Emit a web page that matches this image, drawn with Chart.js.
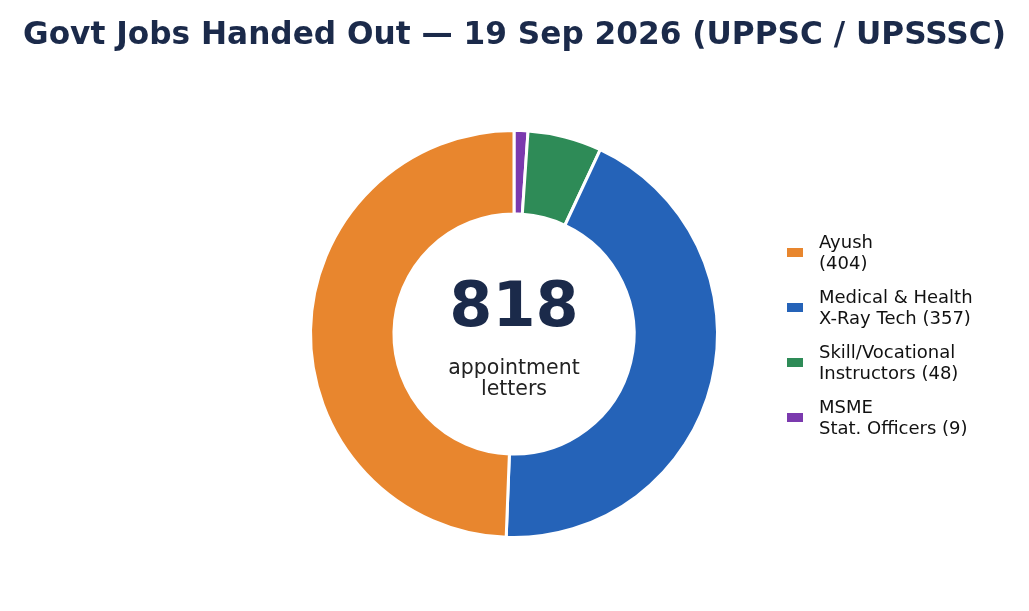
<!DOCTYPE html>
<html>
<head>
<meta charset="utf-8">
<script src="https://cdn.jsdelivr.net/npm/chart.js@4.4.1/dist/chart.umd.min.js"></script>
<style>
  html, body { margin: 0; padding: 0; background: #fff; }
  #wrap { position: relative; width: 1029px; height: 611px; font-family: "DejaVu Sans", sans-serif; }
  #wrap canvas { position: absolute; left: 0; top: 0; }
  #title {
    position: absolute; left: 0; top: 15px; width: 1029px;
    text-align: center; white-space: nowrap;
    font-weight: bold; font-size: 31.2px; color: #1B2A4A;
  }
  #legend { position: absolute; left: 787px; top: 231px; }
  .item { position: relative; height: 55px; }
  .box { position: absolute; left: 0; top: 17px; width: 16px; height: 9px; }
  .lbl { position: absolute; left: 32px; top: 0; font-size: 18px; line-height: 21px; color: #111; white-space: nowrap; }
</style>
</head>
<body>
<div id="wrap">
  <canvas id="donut"></canvas>
  <div id="title">Govt Jobs Handed Out — 19 Sep 2026 (UPPSC / UPSSSC)</div>
  <div id="legend"></div>
</div>
<script>
// categories and counts (legend order)
const categories = [
    ['Ayush', '(404)'],
    ['Medical & Health', 'X-Ray Tech (357)'],
    ['Skill/Vocational', 'Instructors (48)'],
    ['MSME', 'Stat. Officers (9)']
];
const letters = [404, 357, 48, 9];
const colors = ['#E8862E', '#2563B8', '#2E8B57', '#7B3AAE'];
const totalLabel = '818';
const subLabel = ['appointment', 'letters'];

// chart.js goes clockwise, the original goes counter-clockwise, so flip the order
const rev = arr => arr.slice().reverse();

// legend
const legend = document.getElementById('legend');
categories.forEach((lines, i) => {
    const item = document.createElement('div');
    item.className = 'item';
    item.innerHTML = '<div class="box" style="background:' + colors[i] + '"></div>' +
        '<div class="lbl">' + lines.map(s => s.replace('&', '&amp;')).join('<br>') + '</div>';
    legend.appendChild(item);
});

const centerText = {
    id: 'centerText',
    afterDatasetsDraw(chart) {
        const meta = chart.getDatasetMeta(0).data[0];
        if (!meta) return;
        const { x, y } = meta;
        const c = chart.ctx;
        c.save();
        c.textAlign = 'center';
        c.textBaseline = 'middle';
        c.fillStyle = '#1B2A4A';
        c.font = 'bold 62px "DejaVu Sans"';
        c.fillText(totalLabel, x, y - 24);
        c.fillStyle = '#222';
        c.font = '20.5px "DejaVu Sans"';
        c.fillText(subLabel[0], x, y + 35);
        c.fillText(subLabel[1], x, y + 56);
        c.restore();
    }
};

const ctx = document.getElementById('donut').getContext('2d');
new Chart(ctx, {
    type: 'doughnut',
    data: {
        labels: rev(categories),
        datasets: [{
            data: rev(letters),
            backgroundColor: rev(colors),
            borderColor: '#fff',
            borderWidth: 3,
            hoverOffset: 0
        }]
    },
    options: {
        responsive: true,
        maintainAspectRatio: false,
        animation: false,
        cutout: '59%',
        rotation: 0,
        layout: {
            padding: { left: 300, right: 301, top: 129, bottom: 72 }
        },
        plugins: {
            legend: { display: false },
            tooltip: { enabled: false }
        }
    },
    plugins: [centerText]
});
</script>
</body>
</html>
